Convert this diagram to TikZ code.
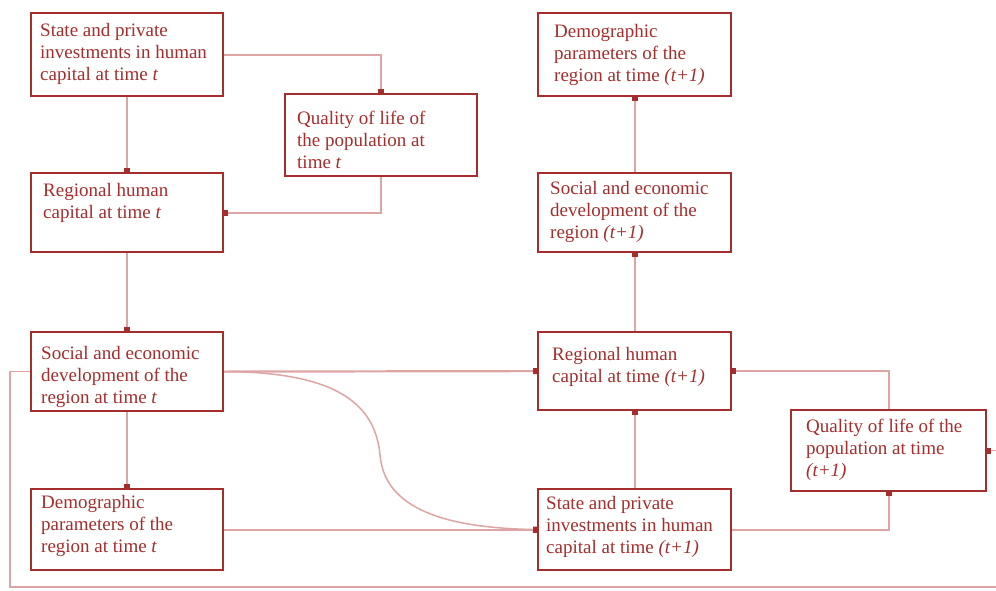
\documentclass[tikz,border=0pt]{standalone}
\usepackage{fontspec}
\setmainfont{Liberation Serif}
\usetikzlibrary{arrows.meta}
\definecolor{boxred}{RGB}{165,45,45}
\definecolor{linered}{RGB}{222,165,165}
\begin{document}
\begin{tikzpicture}[x=1pt,y=-1pt,
  box/.style={draw=boxred, line width=2.2pt, rectangle, inner sep=0pt, anchor=north west, minimum width=192pt},
  txt/.style={text=boxred, anchor=north west, inner sep=0pt, align=left, font=\fontsize{19}{22}\selectfont},
  conn/.style={draw=linered, line width=2.2pt},
  thin/.style={draw=linered, line width=1.5pt},
  tip/.style={-{Rectangle[length=4pt,width=6pt,color=boxred]}}
]
\useasboundingbox (0,0) rectangle (996,590);
\fill[white] (0,0) rectangle (996,590);

% boxes
\node[box, minimum height=83pt] (invt) at (30,12) {};
\node[box, minimum height=82pt] (qolt) at (284,93) {};
\node[box, minimum height=79pt] (regt) at (30,172) {};
\node[box, minimum height=79pt] (soct) at (30,331) {};
\node[box, minimum height=81pt] (demt) at (30,488) {};
\node[box, minimum height=83pt, minimum width=193pt] (demt1) at (537,12) {};
\node[box, minimum height=79pt, minimum width=193pt] (soct1) at (537,172) {};
\node[box, minimum height=78pt, minimum width=193pt] (regt1) at (537,331) {};
\node[box, minimum height=81pt, minimum width=193pt] (invt1) at (537,488) {};
\node[box, minimum height=81pt, minimum width=195pt] (qolt1) at (790,409) {};

% texts
\node[txt] (invtT) at (40,23) {State and private\\investments in human\\capital at time \textit{t}};
\node[txt] (qoltT) at (297,111) {Quality of life of\\the population at\\time \textit{t}};
\node[txt] (regtT) at (43,183) {Regional human\\capital at time \textit{t}};
\node[txt] (soctT) at (41,346) {Social and economic\\development of the\\region at time \textit{t}};
\node[txt] (demtT) at (41,495) {Demographic\\parameters of the\\region at time \textit{t}};
\node[txt] (demt1T) at (554,24) {Demographic\\parameters of the\\region at time \textit{(t+1)}};
\node[txt] (soct1T) at (550,181) {Social and economic\\development of the\\region \textit{(t+1)}};
\node[txt] (regt1T) at (552,347) {Regional human\\capital at time \textit{(t+1)}};
\node[txt] (invt1T) at (546,496) {State and private\\investments in human\\capital at time \textit{(t+1)}};
\node[txt] (qolt1T) at (806,419) {Quality of life of the\\population at time\\\textit{(t+1)}};

% connectors
\draw[conn,tip] (invt.south) -- (regt.north);
\draw[conn,tip] (invt.east) -| (qolt.north);
\draw[conn,tip] (qolt.south) |- (regt.east);
\draw[conn,tip] (regt.south) -- (soct.north);
\draw[conn,tip] (soct.south) -- (demt.north);
\draw[conn,tip] (soct.east) -- (regt1.west);
\draw[thin,tip] (soct.east) .. controls (330,372) and (375,400) .. (380,455) .. controls (385,515) and (460,528) .. (invt1.west);
\draw[conn,tip] (demt.east) -- (invt1.west);
\draw[conn,tip] (invt1.north) -- (regt1.south);
\draw[conn,tip] (regt1.north) -- (soct1.south);
\draw[conn,tip] (soct1.north) -- (demt1.south);
\draw[conn,tip] (invt1.east) -| (qolt1.south);
\draw[conn,tip] (qolt1.north) |- (regt1.east);
\coordinate (lc) at (10,587);
\coordinate (rc) at (999,587);
\draw[thin,tip] (soct.west) -| (lc) -- (rc) |- (qolt1.east);
\end{tikzpicture}
\end{document}
